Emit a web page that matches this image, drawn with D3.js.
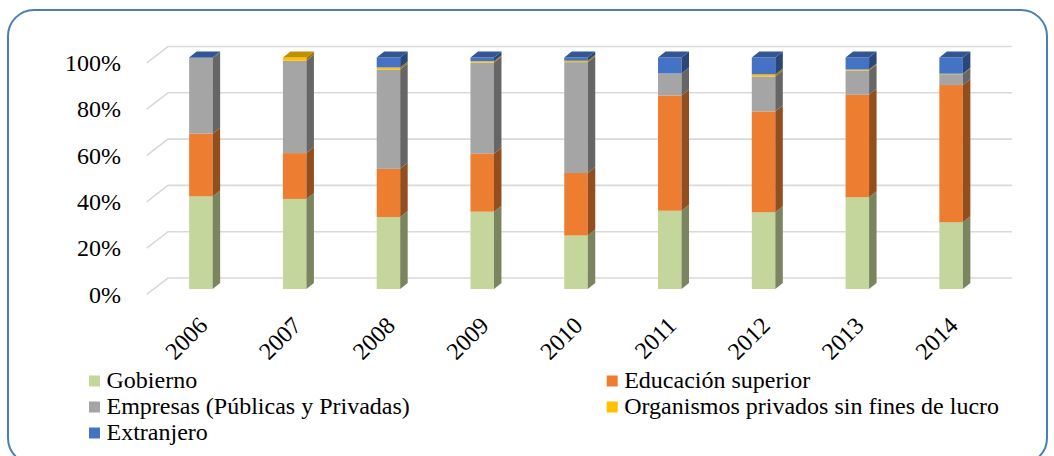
<!DOCTYPE html>
<html>
<head>
<meta charset="utf-8">
<script src="https://cdn.jsdelivr.net/npm/d3@7/dist/d3.min.js"></script>
<style>
  html, body { margin: 0; padding: 0; background: #fff; }
  svg { display: block; }
  .lbl { font-family: "Liberation Serif", "Tinos", "Nimbus Roman", "Times New Roman", "DejaVu Serif", serif; }
</style>
</head>
<body>
<svg id="chart" width="1054" height="456"></svg>
<script>
// Años del eje de categorías
const years = ["2006", "2007", "2008", "2009", "2010", "2011", "2012", "2013", "2014"];

// Participación (%) por fuente de financiamiento
const gobierno    = [40.0, 38.9, 31.1, 33.4, 23.1, 33.8, 33.1, 39.6, 28.8];
const educacion   = [27.1, 19.8, 20.8, 25.0, 27.0, 49.8, 43.6, 44.3, 59.3];
const empresas    = [32.6, 39.9, 42.9, 39.4, 47.9,  9.5, 15.1, 10.5,  4.7];
const organismos  = [ 0.0,  1.4,  0.9,  0.6,  0.6,  0.0,  0.9,  0.4,  0.2];
const extranjero  = [ 0.3,  0.0,  4.3,  1.6,  1.4,  6.9,  7.3,  5.2,  7.0];

const seriesNames = [
  "Gobierno",
  "Educación superior",
  "Empresas (Públicas y Privadas)",
  "Organismos privados sin fines de lucro",
  "Extranjero"
];
const seriesValues = [gobierno, educacion, empresas, organismos, extranjero];
const tickValues = [0, 0.2, 0.4, 0.6, 0.8, 1.0];

const colors = ["#c4d69b", "#ed7d31", "#a5a5a5", "#ffc000", "#4472c4"];

const svg = d3.select("#chart");

// Marco redondeado del gráfico
svg.append("rect")
  .attr("x", 8).attr("y", 10)
  .attr("width", 1039).attr("height", 454)
  .attr("rx", 26).attr("ry", 26)
  .attr("fill", "#fff")
  .attr("stroke", "#4a7ebb")
  .attr("stroke-width", 2);

// Escalas: y para la cara frontal de las barras, x para la pared del fondo
const y = d3.scaleLinear().domain([0, 1]).range([289, 57.5]);
const xBack = d3.scaleBand().domain(years).range([168, 1012]).paddingInner(0).paddingOuter(0);

// Desplazamientos de la perspectiva
const wallDX = 14, wallDY = -11;      // de la cara frontal de la barra a la pared del fondo
const depthDX = 21.3, depthDY = -16.4; // profundidad total del piso
const barW = 23.5;
const barDX = 7.5, barDY = -6;        // profundidad de cada barra

// Líneas de división (pared lateral + pared del fondo)
const grid = svg.append("g").attr("fill", "none").attr("stroke", "#d9d9d9").attr("stroke-width", 1.6);
tickValues.forEach(v => {
  const yb = y(v) + wallDY;
  const x0 = xBack.range()[0], x1 = xBack.range()[1];
  grid.append("path")
    .attr("d", `M${x0 - depthDX},${yb - depthDY} L${x0},${yb} L${x1},${yb}`);
});

// Etiquetas del eje de valores
const yFmt = d3.format(".0%");
svg.append("g").selectAll("text")
  .data(tickValues)
  .join("text")
  .attr("class", "lbl")
  .attr("x", 121)
  .attr("y", d => y(d) + wallDY - depthDY)
  .attr("dy", "0.34em")
  .attr("text-anchor", "end")
  .attr("font-size", 24)
  .attr("fill", "#000")
  .text(d => yFmt(d));

// Apilado al 100 %
const rows = years.map((yr, i) => {
  const vals = seriesValues.map(s => s[i]);
  const total = d3.sum(vals);
  const o = { year: yr };
  seriesNames.forEach((n, k) => { o[n] = vals[k] / total; });
  return o;
});
const stacked = d3.stack().keys(seriesNames)(rows);

function shade(c, k) {
  const col = d3.rgb(c);
  return d3.rgb(col.r * k, col.g * k, col.b * k).formatHex();
}

const bars = svg.append("g");
years.forEach((yr, i) => {
  const xf = xBack(yr) + xBack.bandwidth() / 2 - wallDX - barW / 2;
  const g = bars.append("g");
  let topIdx = -1;
  stacked.forEach((layer, k) => {
    const [a, b] = layer[i];
    if (b - a <= 0) return;
    topIdx = k;
    const y0 = y(a), y1 = y(b);
    // cara frontal
    g.append("rect")
      .attr("x", xf).attr("y", y1)
      .attr("width", barW).attr("height", y0 - y1)
      .attr("fill", colors[k]);
    // cara lateral
    const xr = xf + barW;
    g.append("path")
      .attr("d", `M${xr},${y1} L${xr + barDX},${y1 + barDY} L${xr + barDX},${y0 + barDY} L${xr},${y0} Z`)
      .attr("fill", shade(colors[k], 0.62));
  });
  // cara superior
  if (topIdx >= 0) {
    const yt = y(stacked[topIdx][i][1]);
    g.append("path")
      .attr("d", `M${xf},${yt} L${xf + barDX},${yt + barDY} L${xf + barW + barDX},${yt + barDY} L${xf + barW},${yt} Z`)
      .attr("fill", shade(colors[topIdx], 0.75));
  }
});

// Etiquetas de categorías, giradas 45°
svg.append("g").selectAll("text")
  .data(years)
  .join("text")
  .attr("class", "lbl")
  .attr("text-anchor", "end")
  .attr("font-size", 24)
  .attr("fill", "#000")
  .attr("transform", d => {
    const cx = xBack(d) + xBack.bandwidth() / 2 - wallDX;
    return `translate(${cx + 8},${327}) rotate(-45)`;
  })
  .text(d => d);

// Leyenda
const legendPos = [
  { x: 89, y: 381 }, { x: 606.7, y: 381 },
  { x: 89, y: 407 }, { x: 606.7, y: 407 },
  { x: 89, y: 433 }
];
const legend = svg.append("g");
seriesNames.forEach((n, k) => {
  const p = legendPos[k];
  legend.append("rect")
    .attr("x", p.x).attr("y", p.y - 5.5)
    .attr("width", 11).attr("height", 11)
    .attr("fill", colors[k]);
  legend.append("text")
    .attr("class", "lbl")
    .attr("x", p.x + 17.5).attr("y", p.y + 7)
    .attr("font-size", 24)
    .attr("fill", "#000")
    .text(n);
});
</script>
</body>
</html>
